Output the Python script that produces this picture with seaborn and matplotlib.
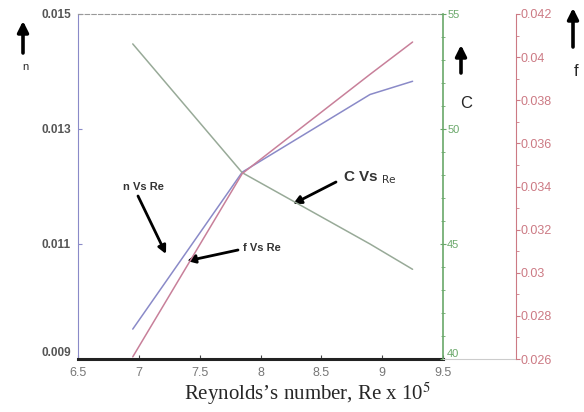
import numpy as np
import pandas as pd
import matplotlib
matplotlib.use("Agg")
import matplotlib.pyplot as plt
from matplotlib.lines import Line2D
from matplotlib.ticker import MultipleLocator, FixedLocator
import seaborn as sns

# data
re = [6.95, 7.85, 8.9, 9.25]
n_vals = [0.00952, 0.01225, 0.01360, 0.01383]
c_vals = [53.7, 48.1, 45.0, 43.9]
f_vals = [0.0261, 0.0346, 0.0392, 0.0407]

x_ticks = [6.5, 7, 7.5, 8, 8.5, 9, 9.5]
x_labels = ["6.5", "7", "7.5", "8", "8.5", "9", "9.5"]
n_ticks = [0.009, 0.011, 0.013, 0.015]
n_labels = ["0.009", "0.011", "0.013", "0.015"]
c_ticks = [40, 45, 50, 55]
f_ticks = [0.026, 0.028, 0.030, 0.032, 0.034, 0.036, 0.038, 0.040, 0.042]
f_labels = ["0.026", "0.028", "0.03", "0.032", "0.034", "0.036", "0.038", "0.04", "0.042"]

df = pd.DataFrame({"Re": re, "n": n_vals, "C": c_vals, "f": f_vals})

sns.set_style("white")
plt.rcParams["font.family"] = ["Liberation Sans", "DejaVu Sans"]

W, H = 584, 412
fig = plt.figure(figsize=(5.84, 4.12), dpi=100)
ax = fig.add_axes([78 / W, 1 - 359 / H, 365 / W, 345 / H])
ax_c = ax.twinx()
ax_f = ax.twinx()

blue = "#8a8ac8"
green_line = "#98aa98"
red_line = "#c8809a"
green_ax = "#6aa86a"
red_ax = "#cc7a84"
tick_gray = "#777777"

sns.lineplot(data=df, x="Re", y="n", ax=ax, color=blue, lw=1.1)
sns.lineplot(data=df, x="Re", y="C", ax=ax_c, color=green_line, lw=1.1)
sns.lineplot(data=df, x="Re", y="f", ax=ax_f, color=red_line, lw=1.1)

# main axis (n)
ax.set_xlim(6.5, 9.5)
ax.set_ylim(0.009, 0.015)
ax.xaxis.set_major_locator(FixedLocator(x_ticks))
ax.set_xticklabels(x_labels)
ax.xaxis.set_minor_locator(MultipleLocator(0.1))
ax.yaxis.set_major_locator(FixedLocator(n_ticks))
ax.set_yticklabels(n_labels)
ax.set_xlabel("")
ax.set_ylabel("")
ax.tick_params(axis="x", direction="in", length=3, color="#444444",
               labelsize=9, labelcolor=tick_gray, pad=6, bottom=True)
ax.tick_params(axis="y", direction="in", length=3, color=blue,
               labelsize=8.5, labelcolor="#555555", pad=5, left=True)
for t in ax.get_yticklabels():
    t.set_fontweight("bold")
ax.get_yticklabels()[0].set_va("bottom")
ax.spines["bottom"].set_linewidth(2.2)
ax.spines["bottom"].set_color("#222222")
ax.spines["left"].set_color(blue)
ax.spines["top"].set_color("#999999")
ax.spines["top"].set_linestyle((0, (4, 2)))
ax.spines["right"].set_visible(False)

# C axis
ax_c.set_ylim(40, 55)
ax_c.yaxis.set_major_locator(FixedLocator(c_ticks))
ax_c.yaxis.set_minor_locator(MultipleLocator(1))
ax_c.set_ylabel("")
ax_c.spines["right"].set_color(green_ax)
ax_c.spines["right"].set_linewidth(1.2)
for s in ["left", "top", "bottom"]:
    ax_c.spines[s].set_visible(False)
ax_c.tick_params(axis="y", which="both", direction="inout", color=green_ax,
                 labelsize=8, labelcolor=green_ax, pad=1, right=True)
ax_c.tick_params(axis="y", which="major", length=4)
ax_c.tick_params(axis="y", which="minor", length=3)
ax_c.get_yticklabels()[0].set_va("bottom")

# f axis
ax_f.set_ylim(0.026, 0.042)
ax_f.yaxis.set_major_locator(FixedLocator(f_ticks))
ax_f.set_yticklabels(f_labels)
ax_f.yaxis.set_minor_locator(MultipleLocator(0.001))
ax_f.set_ylabel("")
ax_f.spines["right"].set_position(("axes", 1.2))
ax_f.spines["right"].set_color(red_ax)
for s in ["left", "top", "bottom"]:
    ax_f.spines[s].set_visible(False)
ax_f.tick_params(axis="y", which="both", direction="out", color=red_ax,
                 labelsize=9, labelcolor=red_ax, pad=0, right=True)
ax_f.tick_params(axis="y", which="major", length=3)
ax_f.tick_params(axis="y", which="minor", length=2)
ax_f.add_line(Line2D([1.0, 1.2], [0, 0], transform=ax_f.transAxes,
                     color="#cccccc", lw=0.8, clip_on=False))


def fig_xy(px, py):
    return (px / W, 1 - py / H)


# axis symbols with up arrows
up = dict(arrowstyle="-|>", lw=2.6, color="black", mutation_scale=16,
          shrinkA=0, shrinkB=0)
for (x, y0, y1, tx, ty, lab, fs) in [(23, 53, 21, 25, 67, "n", 8),
                                     (461, 73, 45, 466, 103, "C", 12),
                                     (573, 47, 8, 576, 72, "f", 12)]:
    fig.text(*fig_xy(tx, ty), lab, ha="center", va="center", fontsize=fs)
    ax.annotate("", xy=fig_xy(x, y1), xytext=fig_xy(x, y0),
                xycoords="figure fraction", textcoords="figure fraction",
                arrowprops=up)

# series labels and their arrows
pointer = dict(arrowstyle="-|>", lw=2.0, color="black", mutation_scale=12,
               shrinkA=0, shrinkB=0)
for (txt, tx, ty, fs, a0, a1) in [
        ("n Vs Re", 143, 187, 8, (138, 196), (166, 254)),
        ("f Vs Re", 262, 248, 8, (238, 250), (187, 261)),
        ("C Vs $_{\\mathrm{Re}}$", 370, 178, 11, (336, 182), (293, 204))]:
    fig.text(*fig_xy(tx, ty), txt, ha="center", va="center", fontsize=fs,
             fontweight="bold", color="#333333")
    ax.annotate("", xy=fig_xy(*a1), xytext=fig_xy(*a0),
                xycoords="figure fraction", textcoords="figure fraction",
                arrowprops=pointer)

fig.text(*fig_xy(308, 394), "Reynolds\u2019s number, Re x 10$^5$",
         ha="center", va="center", fontsize=15, family="Liberation Serif",
         math_fontfamily="stix")

fig.savefig("out.png", dpi=100, facecolor="white")
